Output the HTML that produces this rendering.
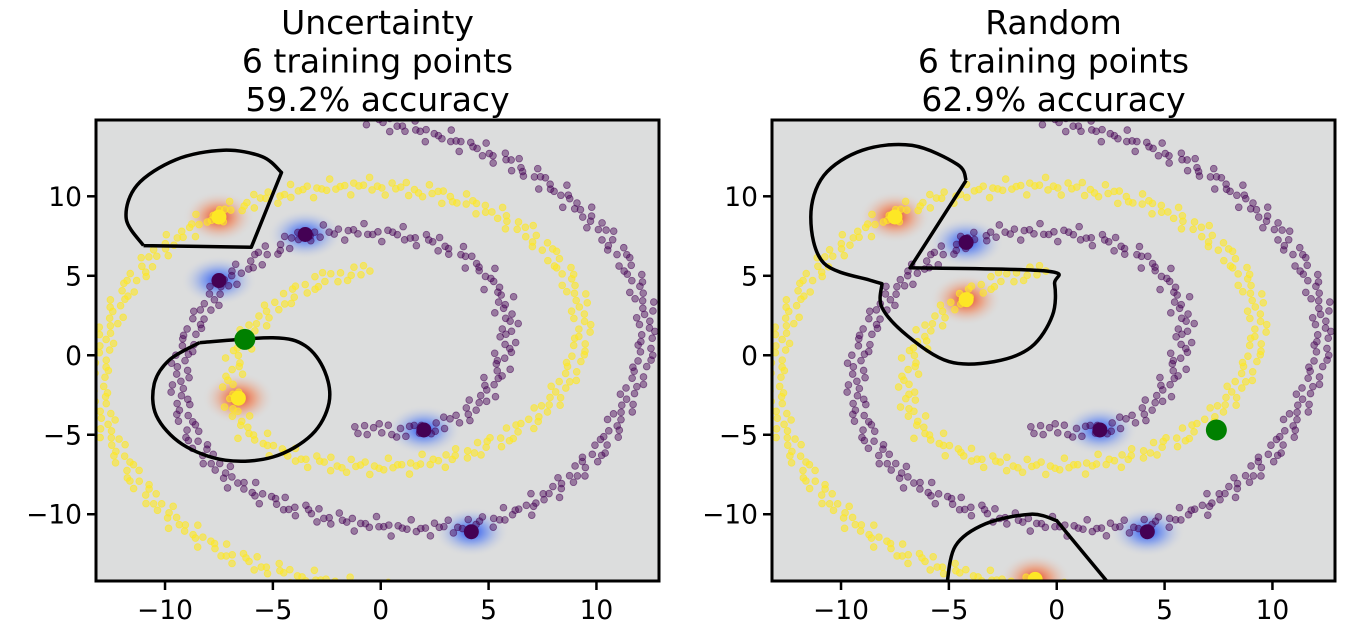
<!DOCTYPE html>
<html><head><meta charset="utf-8">
<style>
html,body{margin:0;padding:0;background:#fff;}
svg{display:block;font-family:"DejaVu Sans","Liberation Sans",sans-serif;}
</style></head>
<body>
<svg id="fig" width="1345" height="643" viewBox="0 0 1345 643" xmlns="http://www.w3.org/2000/svg">
<defs>
<radialGradient id="gRed"><stop offset="0" stop-color="#e83a18" stop-opacity="1"/><stop offset="0.45" stop-color="#f08a60" stop-opacity="0.65"/><stop offset="1" stop-color="#dcdcdc" stop-opacity="0"/></radialGradient>
<radialGradient id="gBlue"><stop offset="0" stop-color="#1a48f0" stop-opacity="1"/><stop offset="0.45" stop-color="#6e90f0" stop-opacity="0.65"/><stop offset="1" stop-color="#dcdcdc" stop-opacity="0"/></radialGradient>
<clipPath id="clipL"><rect x="96" y="120" width="563" height="461"/></clipPath>
<clipPath id="clipR"><rect x="772" y="120" width="563" height="461"/></clipPath>
</defs>
</svg>
<script>
// ---- data ----
const xTicks = [-10, -5, 0, 5, 10];
const yTicks = [-10, -5, 0, 5, 10];
const purpleSpiral = [[-1.2,-4.5],[0.5,-4.8],[2,-4.7],[3.5,-4.1],[4.6,-3],[5.5,-1],[6,1.5],[5.6,3.8],[4.6,5.6],[3,6.9],[1,7.6],[-1.5,7.8],[-3.5,7.6],[-5.5,6.3],[-7.3,4.5],[-8.6,2],[-9.3,-0.5],[-9.3,-3],[-8.6,-5.5],[-7,-7.8],[-4.8,-9.3],[-2,-10.4],[1,-10.9],[4,-10.8],[6.5,-9.8],[8.6,-8],[10.3,-5.8],[11.4,-3],[12.3,0],[12.3,3],[11.5,5.6],[10.2,8],[8.3,10.3],[6,12.2],[3.5,13.5],[1,14.4],[-1,15]];
const yellowSpiral = [[-0.5,5.3],[-2.5,4.9],[-4.3,3.7],[-5.8,2],[-6.7,0],[-7,-2.5],[-6.3,-4.8],[-4.3,-6.3],[-1.8,-7],[1,-7],[3.5,-6.4],[5.8,-5.2],[7.6,-3.5],[8.8,-1.2],[9.4,1.2],[9.2,3.5],[8.3,5.8],[6.8,7.8],[4.8,9.3],[2.2,10.3],[-0.8,10.7],[-3.6,10.4],[-6.2,9.6],[-8.5,8.3],[-10.5,6.3],[-12,3.8],[-12.8,1],[-13.1,-2],[-12.6,-5],[-11.3,-8],[-9.5,-10.5],[-7.3,-12.4],[-4.5,-13.7],[-1.5,-14.5],[0.5,-14.8]];
const leftYellowLabeled = [[-7.5,8.7],[-6.6,-2.7]];
const leftPurpleLabeled = [[-7.5,4.7],[-3.5,7.6],[2,-4.7],[4.2,-11.1]];
const leftGreen = [[-6.3,1.0]];
const rightYellowLabeled = [[-7.5,8.7],[-4.2,3.5],[-1,-14.1]];
const rightPurpleLabeled = [[-4.2,7.1],[2,-4.7],[4.2,-11.1]];
const rightGreen = [[7.4,-4.7]];
const leftTitle = ["Uncertainty","6 training points","59.2% accuracy"];
const rightTitle = ["Random","6 training points","62.9% accuracy"];
// third element 1 = sharp corner
const leftContours = [
 [[-11,6.9,1],[-6,6.8,1],[-4.6,11.5,1],[-5.5,12.5],[-7.3,12.9],[-9.5,12.3],[-11.3,10.7],[-11.8,8.6],[-11,6.9,1]],
 [[-8.4,0.8],[-5,1.1],[-3.5,0.6],[-2.6,-1],[-2.4,-3],[-3.2,-5],[-5,-6.4],[-7.2,-6.6],[-9.2,-5.6],[-10.4,-3.8],[-10.5,-1.8],[-9.8,-0.3],[-8.4,0.8]]
];
const rightContours = [
 [[-4.2,11,1],[-6.8,5.5,1],[-0.5,5.3],[-0.1,4.5],[-0.2,2.5],[-1.2,0.5],[-2.9,-0.4],[-5,-0.4],[-6.9,1.2],[-8.1,3],[-8.1,4.5,1],[-8.6,4.7,1],[-10.8,5.8],[-11.4,8.7],[-10.8,11.3],[-9,12.9],[-6.7,13.2],[-4.6,12],[-4.2,11,1]],
 [[-5.1,-14.5,1],[-4.7,-12],[-3.3,-10.6],[-1.2,-10],[0,-10.4,1],[2.5,-14.5,1]]
];
</script>
<script>
const svg=document.getElementById('fig');
const NS='http://www.w3.org/2000/svg';
function mk(tag,attrs,parent){const e=document.createElementNS(NS,tag);for(const k in attrs)e.setAttribute(k,attrs[k]);(parent||svg).appendChild(e);return e;}
function resample(path,step){
  const out=[];
  for(let i=0;i<path.length-1;i++){
    const [a,b]=path[i],[c,d]=path[i+1];
    const len=Math.hypot(c-a,d-b);const n=Math.max(1,Math.round(len/step));
    for(let j=0;j<n;j++){out.push([a+(c-a)*j/n,b+(d-b)*j/n,(d-b)/len,-(c-a)/len]);}
  }
  return out;
}
function smoothPath(P){
  let d='M'+P[0][0].toFixed(1)+','+P[0][1].toFixed(1);
  for(let i=0;i<P.length-1;i++){
    const p1=P[i],p2=P[i+1];
    const p0=(i>0&&!p1[2])?P[i-1]:p1;
    const p3=(i+2<P.length&&!p2[2])?P[i+2]:p2;
    const c1=[p1[0]+(p2[0]-p0[0])/6,p1[1]+(p2[1]-p0[1])/6];
    const c2=[p2[0]-(p3[0]-p1[0])/6,p2[1]-(p3[1]-p1[1])/6];
    d+=' C'+c1[0].toFixed(1)+','+c1[1].toFixed(1)+' '+c2[0].toFixed(1)+','+c2[1].toFixed(1)+' '+p2[0].toFixed(1)+','+p2[1].toFixed(1);
  }
  return d;
}
function panel(x0,name,title,yl,pl,gr,contours,clipId){
  const W=563,H=461,y0=120;
  const xmin=-13.2,xmax=12.9,ymin=-14.2,ymax=14.8;
  const sx=v=>x0+(v-xmin)/(xmax-xmin)*W;
  const sy=v=>y0+(ymax-v)/(ymax-ymin)*H;
  const g=mk('g',{});
  
  
  const bg=mk('rect',{x:x0,y:y0,width:W,height:H,fill:'#dcdddd'},g);
  
  
  const pg=mk('g',{'clip-path':'url(#'+clipId+')'},g);
  yl.forEach(p=>{const b=mk('ellipse',{cx:sx(p[0]),cy:sy(p[1]),rx:36,ry:26,fill:'url(#gRed)'},pg);
    });
  pl.forEach(p=>{const b=mk('ellipse',{cx:sx(p[0]),cy:sy(p[1]),rx:38,ry:25,fill:'url(#gBlue)'},pg);
    });
  [[purpleSpiral,'#440154','purple',0.45],[yellowSpiral,'#fde725','yellow',0.6]].forEach(([sp,col,nm,op])=>{
    const pts=resample(sp,0.22);
    const sg=mk('g',{},pg);
    
    
    pts.forEach((p,i)=>{
      const off=0.35*Math.sin(i*2.39)+0.2*Math.sin(i*7.13);
      const c=mk('circle',{cx:sx(p[0]+p[2]*off),cy:sy(p[1]+p[3]*off),r:3.4,fill:col,'fill-opacity':op,stroke:col,'stroke-opacity':op+0.1,'stroke-width':0.8},sg);
      
      
    });
  });
  contours.forEach(c=>{const P=c.map(p=>[sx(p[0]),sy(p[1]),p[2]]);
    const pa=mk('path',{d:smoothPath(P),fill:'none',stroke:'#000','stroke-width':3.5,'stroke-linejoin':'round'},pg);
    });
  yl.forEach(p=>{const c=mk('circle',{cx:sx(p[0]),cy:sy(p[1]),r:7.5,fill:'#fde725'},pg);
    });
  pl.forEach(p=>{const c=mk('circle',{cx:sx(p[0]),cy:sy(p[1]),r:7.5,fill:'#440154'},pg);
    });
  gr.forEach(p=>{const c=mk('circle',{cx:sx(p[0]),cy:sy(p[1]),r:10.5,fill:'#008000'},pg);
    });
  const fr=mk('rect',{x:x0,y:y0,width:W,height:H,fill:'none',stroke:'#000','stroke-width':3},g);
  
  xTicks.forEach(t=>{const X=sx(t);
    const l=mk('line',{x1:X,x2:X,y1:y0+H,y2:y0+H+9,stroke:'#000','stroke-width':2.5},g);
    
    const tx=mk('text',{x:X,y:y0+H+38,'font-size':26.5,'text-anchor':'middle',fill:'#000'},g);
    tx.textContent=(t<0?'\u2212'+(-t):''+t);
    });
  yTicks.forEach(t=>{const Y=sy(t);
    const l=mk('line',{x1:x0-9,x2:x0,y1:Y,y2:Y,stroke:'#000','stroke-width':2.5},g);
    
    const tx=mk('text',{x:x0-14,y:Y+9.5,'font-size':26.5,'text-anchor':'end',fill:'#000'},g);
    tx.textContent=(t<0?'\u2212'+(-t):''+t);
    });
  title.forEach((s,i)=>{const tx=mk('text',{x:x0+W/2,y:34+i*38.5,'font-size':33,'text-anchor':'middle',fill:'#000'},g);
    tx.textContent=s;});
}
panel(96,'uncertainty',leftTitle,leftYellowLabeled,leftPurpleLabeled,leftGreen,leftContours,'clipL');
panel(772,'random',rightTitle,rightYellowLabeled,rightPurpleLabeled,rightGreen,rightContours,'clipR');
</script>
</body></html>
